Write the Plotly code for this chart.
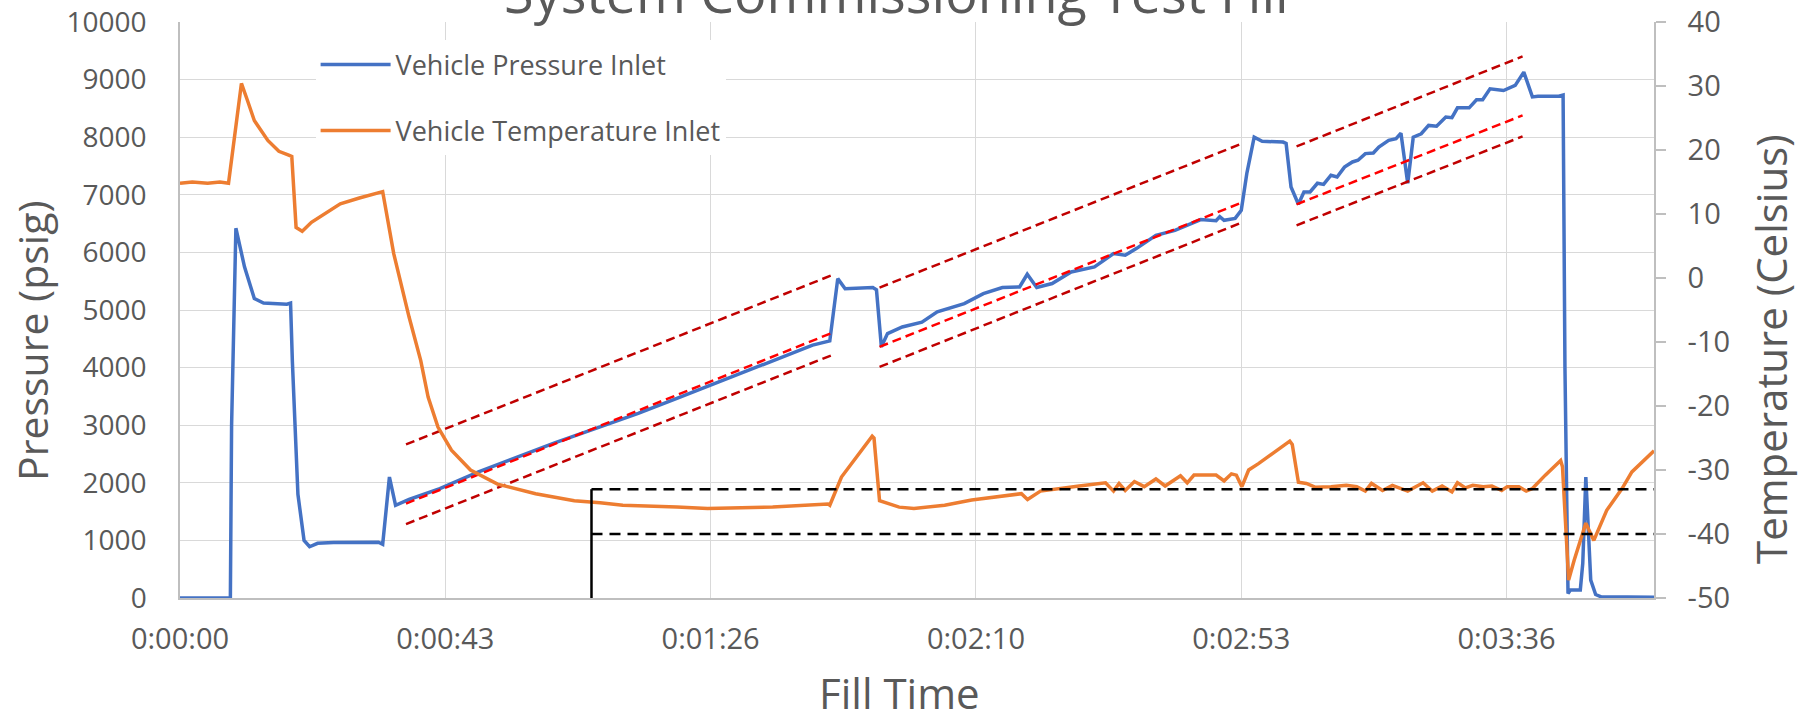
import plotly.graph_objects as go

# ---------------- data (time in seconds) ----------------
press_t = [0, 7.9, 8.2, 8.4, 9.1, 10.5, 12.1, 13.6, 17.4, 18.0, 18.3, 19.2, 20.2, 21.1, 22.4, 25.0, 32.3, 33.0,
           34.1, 35.1, 37.3, 42.3, 48.6, 54.8, 61.0, 68.4, 74.6, 80.9, 87.1, 93.3, 97.1, 101.5, 103.0, 105.8,
           107.1, 108.3, 112.8, 113.4, 114.2, 115.2, 117.6, 120.8, 123.3, 127.7, 130.8, 133.9, 136.7, 137.95,
           139.5, 142.0, 145.1, 148.9, 152.0, 153.9, 155.7, 158.9, 162.0, 166.2, 168.7, 169.3, 170.0, 171.8,
           172.8, 173.7, 174.9, 176.2, 179.6, 180.1, 180.9, 182.1, 183.0, 184.0, 185.2, 186.2, 187.4, 188.4,
           189.6, 190.9, 191.8, 193.0, 194.3, 195.2, 196.8, 198.0, 198.8, 199.9, 200.8, 202.1, 203.3, 204.6,
           206.1, 207.1, 208.0, 209.9, 211.1, 212.1, 213.3, 215.5, 217.4, 218.8, 220.2, 221.1, 224.5, 225.2,
           225.5, 226.0, 226.4, 228.0, 228.4, 228.9, 229.7, 230.5, 231.4, 240.0]
pressure = [0, 0, -20, 3000, 6420, 5750, 5200, 5120, 5100, 5120, 4100, 1800, 1000, 890, 950, 965, 967, 930,
            2100, 1610, 1710, 1900, 2190, 2450, 2695, 2970, 3204, 3464, 3724, 3984, 4158, 4331, 4390, 4463,
            5545, 5370, 5390, 5350, 4360, 4590, 4705, 4790, 4967, 5110, 5285, 5390, 5400, 5620,
            5390, 5460, 5660, 5747, 5980, 5950, 6066, 6297, 6383, 6570, 6550, 6620, 6557, 6590,
            6730, 7370, 8000, 7930, 7915, 7890, 7135, 6835, 7050, 7050, 7200, 7180, 7340, 7310,
            7480, 7570, 7600, 7715, 7725, 7830, 7945, 7975, 8070, 7200, 8000, 8060, 8205, 8190,
            8350, 8340, 8510, 8510, 8650, 8650, 8840, 8810, 8900, 9130, 8700, 8710, 8710, 8730,
            4000, 80, 140, 140, 600, 2100, 310, 60, 20, 15]

temp_t = [0, 2.0, 4.5, 6.5, 7.9, 10.0, 11.0, 12.1, 14.3, 16.1, 17.7, 18.2, 18.9, 19.9, 21.4, 23.6, 26.1,
          29.2, 32.3, 33.0, 34.8, 37.3, 39.2, 40.4, 42.0, 44.2, 47.3, 51.7, 57.9, 64.2, 68.4, 72.1, 80.9,
          85.9, 96.5, 105.5, 105.8, 107.7, 112.7, 113.0, 113.9, 117.1, 119.5, 124.5, 128.9, 133.9, 137.0,
          138.0, 140.1, 146.4, 150.7, 152.0, 152.9, 153.9, 155.4, 157.0, 158.9, 160.4, 162.9, 164.0, 165.1,
          168.7, 170.0, 171.2, 172.0, 172.9, 174.0, 175.6, 178.7, 180.7, 181.1, 182.1, 183.4, 184.9, 187.4,
          189.9, 191.6, 193.0, 194.0, 195.8, 197.4, 199.9, 202.4, 203.9, 205.5, 207.1, 208.0, 209.3, 210.5,
          212.2, 213.6, 215.2, 216.1, 218.0, 219.2, 220.2, 222.3, 224.8, 225.1, 226.1, 227.0, 228.9, 230.2,
          232.3, 234.8, 236.4, 240.0]
temperature = [14.8, 15.0, 14.8, 15.0, 14.8, 30.4, 27.7, 24.6, 21.5, 19.8, 19.2, 19.0, 7.9, 7.3, 8.7, 10.0, 11.6,
               12.5, 13.4, 13.5, 3.8, -6.1, -12.9, -18.6, -23.3, -26.9, -30.0, -32.2, -33.7, -34.8, -35.1, -35.5, -35.8,
               -36.0, -35.8, -35.3, -35.5, -31.1, -24.7, -25.0, -34.8, -35.8, -36.0, -35.5, -34.7, -34.1, -33.7,
               -34.6, -33.3, -32.5, -32.0, -33.3, -32.1, -33.2, -31.8, -32.6, -31.4, -32.5, -30.9, -32.0, -30.8,
               -30.8, -31.7, -30.6, -30.8, -32.6, -30.0, -29.0, -26.9, -25.5, -26.0, -31.9, -32.1, -32.7, -32.6,
               -32.4, -32.6, -33.3, -32.1, -33.2, -32.4, -33.3, -32.0, -33.3, -32.5, -33.4, -32.0, -32.8, -32.4,
               -32.6, -32.5, -33.2, -32.6, -32.6, -33.3, -32.9, -30.8, -28.5, -29.5, -47.2, -44.1, -38.3, -41.0,
               -36.3, -32.9, -30.3, -27.0]

# fill-rate guide lines (pressure vs time), three fill segments
trend_t = [[36.8, 106.1], [113.9, 173.1], [181.8, 218.6]]
trend_mid = [[1640, 4600], [4360, 6874], [6835, 8378]]
trend_upper = [[2666, 5603], [5390, 7898], [7840, 9402]]
trend_lower = [[1284, 4215], [4012, 6527], [6470, 8014]]

# temperature limit lines
limit_start_t = 67.0
limit_end_t = 240.0
limit_temps = [-33.0, -40.0]
temp_floor = -50.0

tick_vals = [0, 43.2, 86.4, 129.6, 172.8, 216.0]
tick_text = ["0:00:00", "0:00:43", "0:01:26", "0:02:10", "0:02:53", "0:03:36"]
temp_tick_vals = [-50, -40, -30, -20, -10, 0, 10, 20, 30, 40]
temp_tick_text = ["-50", "-40", "-30", "-20", "-10", "0", "10", "20", "30", "40"]

# ---------------- figure ----------------
FONT = "Open Sans"
GREY = "#595959"
L, R, T, B = 180, 146, 22, 116
W, H = 1800, 714
PW, PH = W - L - R, H - T - B

fig = go.Figure()

fig.add_trace(go.Scatter(x=press_t, y=pressure, mode="lines", name="Vehicle Pressure Inlet",
                         line=dict(color="#4472C4", width=3.5), legendgroup="p", yaxis="y"))

for i in range(len(trend_t)):
    fig.add_trace(go.Scatter(x=trend_t[i], y=trend_upper[i], mode="lines", showlegend=False,
                             line=dict(color="#C00000", width=2.5, dash="9px,5px"), yaxis="y"))
    fig.add_trace(go.Scatter(x=trend_t[i], y=trend_lower[i], mode="lines", showlegend=False,
                             line=dict(color="#C00000", width=2.5, dash="9px,5px"), yaxis="y"))
    fig.add_trace(go.Scatter(x=trend_t[i], y=trend_mid[i], mode="lines", showlegend=False,
                             line=dict(color="#FF0000", width=2.5, dash="9px,5px"), yaxis="y"))

fig.add_trace(go.Scatter(x=temp_t, y=temperature, mode="lines", name="Vehicle Temperature Inlet",
                         line=dict(color="#ED7D31", width=3.5), legendgroup="t", yaxis="y2"))

for lt in limit_temps:
    fig.add_trace(go.Scatter(x=[limit_start_t, limit_end_t], y=[lt, lt], mode="lines", showlegend=False,
                             line=dict(color="black", width=2.5, dash="11px,7px"), yaxis="y2"))
fig.add_trace(go.Scatter(x=[limit_start_t, limit_start_t], y=[temp_floor, max(limit_temps)], mode="lines",
                         showlegend=False, line=dict(color="black", width=2.5), yaxis="y2"))

fig.update_layout(
    width=W, height=H,
    margin=dict(l=L, r=R, t=T, b=B, autoexpand=False),
    paper_bgcolor="white", plot_bgcolor="white",
    font=dict(family=FONT, color=GREY),
    title=dict(text="System Commissioning Test Fill", font=dict(size=54, color=GREY, family=FONT),
               x=0.498, xanchor="center", xref="container", y=0.982, yanchor="bottom", yref="container"),
    xaxis=dict(range=[0, 240], tickvals=tick_vals, ticktext=tick_text, automargin=False,
               tickfont=dict(size=29, color=GREY), showgrid=True, gridcolor="#D9D9D9", gridwidth=1.3,
               showline=True, linecolor="#BFBFBF", linewidth=1.5, zeroline=False, ticks="",
               ticklabelstandoff=14),
    yaxis=dict(range=[0, 10000], dtick=1000, tickformat="d", tickfont=dict(size=28, color=GREY),
               automargin=False,
               showgrid=True, gridcolor="#D9D9D9", gridwidth=1.3, showline=True, linecolor="#BFBFBF",
               linewidth=1.5, zeroline=False, ticks="", ticklabelstandoff=26),
    yaxis2=dict(range=[-50, 40], tickvals=temp_tick_vals, ticktext=temp_tick_text, overlaying="y",
                side="right", tickfont=dict(size=29, color=GREY), automargin=False,
                showgrid=False, showline=True, linecolor="#BFBFBF", linewidth=1.5, zeroline=False,
                ticks="outside", ticklen=10, tickcolor="#BFBFBF", tickwidth=1.5, ticklabelstandoff=16),
    legend=dict(x=0.092, y=0.968, xanchor="left", yanchor="top", bgcolor="white",
                font=dict(size=27, color=GREY), tracegroupgap=28, itemwidth=70, traceorder="grouped"),
    annotations=[
        dict(text="Fill Time", xref="paper", yref="paper", x=(899 - L) / PW, y=0,
             xanchor="center", yanchor="top", yshift=-64, showarrow=False,
             font=dict(size=42, color=GREY, family=FONT)),
        dict(text="Pressure (psig)", xref="paper", yref="paper", x=(32 - L) / PW, y=(H - B - 341) / PH,
             xanchor="center", yanchor="middle", textangle=-90, showarrow=False,
             font=dict(size=41, color=GREY, family=FONT)),
        dict(text="Temperature (Celsius)", xref="paper", yref="paper", x=(1771 - L) / PW, y=(H - B - 349) / PH,
             xanchor="center", yanchor="middle", textangle=-90, showarrow=False,
             font=dict(size=42, color=GREY, family=FONT)),
    ],
)

fig.write_html("out.html", config={"displayModeBar": False},
               post_script="document.body.style.margin='0';document.body.style.overflow='hidden';")
